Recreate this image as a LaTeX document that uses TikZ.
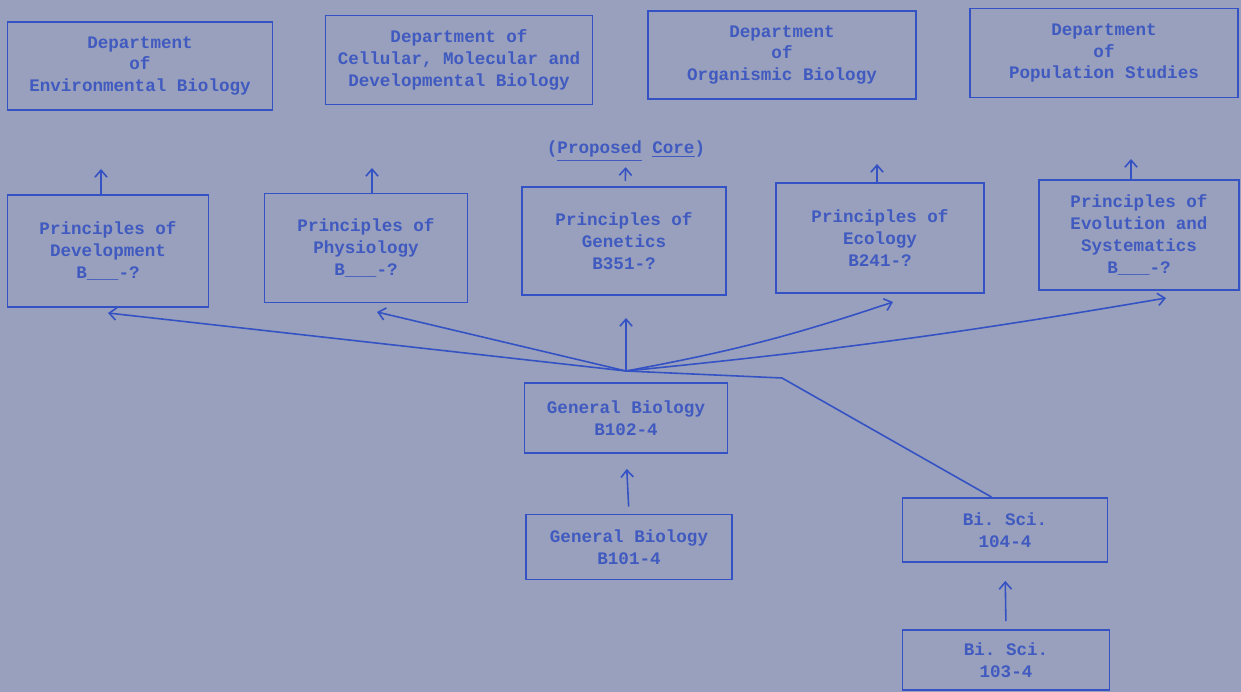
\documentclass[tikz,border=0pt]{standalone}
\usepackage{fontspec}
\setmonofont{Liberation Mono}
\usetikzlibrary{arrows.meta,positioning}

\definecolor{paper}{RGB}{152,160,189}
\definecolor{ink}{RGB}{52,82,196}
\definecolor{typed}{RGB}{64,90,192}

\tikzset{
  box/.style={draw=ink, line width=1.1pt, text=typed, align=center,
    font=\ttfamily\bfseries\fontsize{10}{12.5}\selectfont},
  link/.style={draw=ink, line width=0.9pt},
  tag/.style={text=typed, font=\ttfamily\bfseries\fontsize{10}{12.5}\selectfont},
}

\begin{document}
\begin{tikzpicture}[x=0.02cm, y=-0.02cm, >={Straight Barb[length=4pt,width=7pt]}]
        \fill[paper] (0,0) rectangle (1241,692);
        \useasboundingbox (0,0) rectangle (1241,692);

        % departments
        \node[box, minimum width=5.30cm, minimum height=1.76cm] (envbio) at (140,66) {Department\\of\\Environmental Biology};
        \node[box, minimum width=5.34cm, minimum height=1.78cm] (cmdb) at (459,60) {Department of\\Cellular, Molecular and\\Developmental Biology};
        \node[box, minimum width=5.36cm, minimum height=1.76cm] (orgbio) at (782,55) {Department\\of\\Organismic Biology};
        \node[box, minimum width=5.36cm, minimum height=1.78cm] (popstud) at (1104,53) {Department\\of\\Population Studies};

        % core courses
        \node[tag] (core) at (626,151) {(\underline{Proposed} \underline{Core})};
        \node[box, minimum width=4.02cm, minimum height=2.24cm] (devel) at (108,251) {Principles of\\Development\\B\_\_\_-?};
        \node[box, minimum width=4.06cm, minimum height=2.18cm] (physio) at (366,248) {Principles of\\Physiology\\B\_\_\_-?};
        \node[box, minimum width=4.08cm, minimum height=2.16cm] (genet) at (624,241) {Principles of\\Genetics\\B351-?};
        \node[box, minimum width=4.16cm, minimum height=2.20cm] (ecol) at (880,238) {Principles of\\Ecology\\B241-?};
        \node[box, minimum width=4.00cm, minimum height=2.20cm] (evol) at (1139,235) {Principles of\\Evolution and\\Systematics\\B\_\_\_-?};

        % intro courses
        \node[box, minimum width=4.06cm, minimum height=1.40cm] (gb102) at (626,418) {General Biology\\B102-4};
        \node[box, minimum width=4.12cm, minimum height=1.30cm] (gb101) at (629,547) {General Biology\\B101-4};
        \node[box, minimum width=4.10cm, minimum height=1.28cm] (bs104) at (1005,530) {Bi. Sci.\\104-4};
        \node[box, minimum width=4.14cm, minimum height=1.20cm] (bs103) at (1006,660) {Bi. Sci.\\103-4};

        \coordinate (devup) at (101,169);
        \coordinate (phyup) at (372,168);
        \coordinate (ecoup) at (877,164);
        \coordinate (evoup) at (1131,159);
        \coordinate (hub) at (626,371);
        \coordinate (knee) at (782,378);
        \coordinate (devin) at (108,313);
        \coordinate (phyin) at (377,312);
        \coordinate (genin) at (626,318);
        \coordinate (ecoin) at (893,302);
        \coordinate (evoin) at (1166,298);

        \draw[link, ->] (devel.north -| devup) -- (devup);
        \draw[link, ->] (physio.north -| phyup) -- (phyup);
        \draw[link, ->, shorten <=3pt] (genet) -- (core);
        \draw[link, ->] (ecol.north -| ecoup) -- (ecoup);
        \draw[link, ->] (evol.north -| evoup) -- (evoup);

        \draw[link, ->] (hub) -- (devin);
        \draw[link, ->] (hub) -- (phyin);
        \draw[link, ->] (hub) -- (genin);
        \draw[link, ->] (hub) to[bend right=4] (ecoin);
        \draw[link, ->] (hub) to[bend right=2] (evoin);
        \draw[link] ([xshift=-0.27cm]bs104.north) -- (knee) -- (hub);

        \draw[link, ->, shorten <=0.14cm, shorten >=0.3cm] (gb101.north) -- (gb102.south);
        \draw[link, ->, shorten <=0.16cm, shorten >=0.36cm] (bs103.north) -- (bs104.south);
      \end{tikzpicture}
\end{document}
